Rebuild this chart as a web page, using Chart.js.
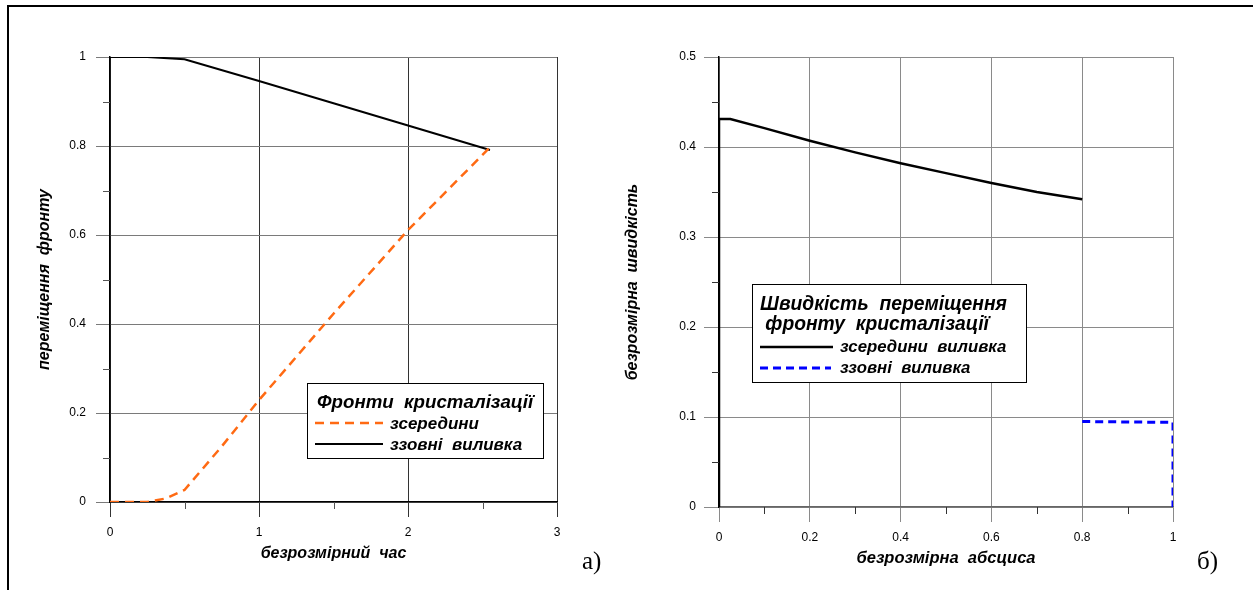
<!DOCTYPE html>
<html lang="uk">
<head>
  <meta charset="UTF-8">
  <title>Фронти кристалізації</title>
  <script src="https://cdn.jsdelivr.net/npm/chart.js"></script>
  <style>
    body { margin: 0; background: #fff; width: 1253px; height: 590px; overflow: hidden; position: relative; font-family: "Liberation Sans", Arial, sans-serif; }
    .frame { position: absolute; left: 7px; top: 5px; width: 1260px; height: 600px; border-top: 2px solid #000; border-left: 2px solid #000; }
    .panel { position: absolute; top: 0; height: 590px; }
    .legend { position: absolute; background: #fff; border: 1px solid #000; font-weight: bold; font-style: italic; color: #000; white-space: pre; }
    .legend div { position: absolute; line-height: 1; }
    .legend svg { position: absolute; overflow: visible; }
    .tag { position: absolute; font-family: "Liberation Serif", "Times New Roman", serif; font-size: 25px; color: #000; }
  </style>
</head>
<body>
  <div class="frame"></div>
  <div class="panel" style="left:0;width:620px"><canvas id="chartA"></canvas></div>
  <div class="panel" style="left:620px;width:633px"><canvas id="chartB"></canvas></div>

  <div class="legend" style="left:307px;top:383px;width:235px;height:74px">
    <div style="left:9px;top:9px;font-size:18.7px">Фронти  кристалізації</div>
    <svg style="left:7px;top:39px" width="70" height="1"><line x1="0" y1="0" x2="68" y2="0" stroke="#ff6a13" stroke-width="2.5" stroke-dasharray="9,6"/></svg>
    <div style="left:82px;top:31px;font-size:17px">зсередини</div>
    <svg style="left:7px;top:60px" width="70" height="1"><line x1="0" y1="0" x2="68" y2="0" stroke="#000" stroke-width="2"/></svg>
    <div style="left:82px;top:52px;font-size:17px">ззовні  виливка</div>
  </div>

  <div class="legend" style="left:752px;top:284px;width:273px;height:97px">
    <div style="left:7px;top:9px;font-size:19.3px">Швидкість  переміщення</div>
    <div style="left:7px;top:29px;font-size:19.3px"> фронту  кристалізації</div>
    <svg style="left:7px;top:62px" width="75" height="1"><line x1="0" y1="0" x2="73" y2="0" stroke="#000" stroke-width="2.5"/></svg>
    <div style="left:87px;top:54px;font-size:16.8px">зсередини  виливка</div>
    <svg style="left:7px;top:83px" width="75" height="1"><line x1="0" y1="0" x2="71" y2="0" stroke="#0000ff" stroke-width="3" stroke-dasharray="8,5"/></svg>
    <div style="left:87px;top:75px;font-size:16.8px">ззовні  виливка</div>
  </div>

  <div class="tag" style="left:582px;top:547px">а)</div>
  <div class="tag" style="left:1197px;top:547px">б)</div>

  <script>
    // --- панель а): переміщення фронту від безрозмірного часу
    const innerTime = [0, 0.25, 0.375, 0.5, 0.75, 1, 1.5, 2, 2.55];
    const innerFront = [0, 0, 0.008, 0.027, 0.125, 0.229, 0.423, 0.611, 0.797];
    const outerTime = [0, 0.25, 0.5, 1, 1.5, 2, 2.55];
    const outerFront = [1, 1, 0.995, 0.946, 0.896, 0.846, 0.791];
    const xTicksA = [0, 1, 2, 3];
    const xMinorA = [0.5, 1.5, 2.5];
    const yTicksA = [0, 0.2, 0.4, 0.6, 0.8, 1];
    const yMinorA = [0.1, 0.3, 0.5, 0.7, 0.9];

    // --- панель б): швидкість від безрозмірної абсциси
    const innerAbsc = [0, 0, 0.025, 0.1, 0.2, 0.3, 0.4, 0.5, 0.6, 0.7, 0.8];
    const innerSpeed = [0, 0.431, 0.431, 0.421, 0.407, 0.394, 0.382, 0.371, 0.36, 0.35, 0.342];
    const outerAbsc = [0.8, 1, 1];
    const outerSpeed = [0.095, 0.094, 0];
    const xTicksB = [0, 0.2, 0.4, 0.6, 0.8, 1];
    const xMinorB = [0.1, 0.3, 0.5, 0.7, 0.9];
    const yTicksB = [0, 0.1, 0.2, 0.3, 0.4, 0.5];
    const yMinorB = [0.05, 0.15, 0.25, 0.35, 0.45];

    Chart.defaults.font.family = '"Liberation Sans", Arial, sans-serif';
    Chart.defaults.color = '#000';

    const pts = (xs, ys) => xs.map((v, i) => ({x: v, y: ys[i]}));
    const setTicks = arr => s => { s.ticks = arr.map(v => ({value: v})); };
    const plainLabel = v => String(Math.round(v * 100) / 100);

    // short minor ticks, positioned through the chart's own scales
    const minorTicks = {
      id: 'minorTicks',
      afterDraw(chart, args, o) {
        const {ctx, scales: {x, y}} = chart;
        ctx.save();
        ctx.strokeStyle = o.color;
        ctx.lineWidth = 1;
        o.x.forEach(v => {
          const px = Math.round(x.getPixelForValue(v)) + 0.5;
          ctx.beginPath(); ctx.moveTo(px, x.top); ctx.lineTo(px, x.top + o.len); ctx.stroke();
        });
        o.y.forEach(v => {
          const py = Math.round(y.getPixelForValue(v)) + 0.5;
          ctx.beginPath(); ctx.moveTo(y.right - o.len, py); ctx.lineTo(y.right, py); ctx.stroke();
        });
        ctx.restore();
      }
    };

    const tickFont = {size: 12};
    const titleFont = {size: 16, weight: 'bold', style: 'italic'};

    new Chart(document.getElementById('chartA'), {
      type: 'line',
      plugins: [minorTicks],
      data: {
        datasets: [
          {label: 'зсередини', data: pts(innerTime, innerFront), borderColor: '#ff6a13', borderWidth: 2.5, borderDash: [9, 6], pointRadius: 0, tension: 0},
          {label: 'ззовні виливка', data: pts(outerTime, outerFront), borderColor: '#000', borderWidth: 2, pointRadius: 0, tension: 0}
        ]
      },
      options: {
        responsive: true, maintainAspectRatio: false, animation: false,
        layout: {padding: {left: 0, top: 57, right: 63, bottom: 0}},
        plugins: {
          legend: {display: false}, tooltip: {enabled: false},
          minorTicks: {x: xMinorA, y: yMinorA, len: 7, color: '#555'}
        },
        scales: {
          x: {
            type: 'linear', min: 0, max: 3,
            afterBuildTicks: setTicks(xTicksA),
            afterFit: s => { s.height = 88; },
            grid: {color: '#333', lineWidth: 1, tickLength: 15},
            border: {color: '#000', width: 1.5},
            ticks: {font: tickFont, padding: 8, maxRotation: 0, autoSkip: false, callback: plainLabel},
            title: {display: true, text: 'безрозмірний  час', font: titleFont, padding: {top: 0, bottom: 27}}
          },
          y: {
            type: 'linear', min: 0, max: 1,
            afterBuildTicks: setTicks(yTicksA),
            afterFit: s => { s.width = 110; },
            grid: {color: '#7a7a7a', lineWidth: 1, tickLength: 14},
            border: {color: '#000', width: 1.5},
            ticks: {font: tickFont, padding: 10, callback: plainLabel},
            title: {display: true, text: 'переміщення  фронту', font: titleFont, padding: {top: 35, bottom: 0}}
          }
        }
      }
    });

    new Chart(document.getElementById('chartB'), {
      type: 'line',
      plugins: [minorTicks],
      data: {
        datasets: [
          {label: 'зсередини виливка', data: pts(innerAbsc, innerSpeed), borderColor: '#000', borderWidth: 2.5, pointRadius: 0, tension: 0},
          {label: 'ззовні виливка', data: pts(outerAbsc, outerSpeed), borderColor: '#0000ff', borderWidth: 3, borderDash: [8, 5], pointRadius: 0, tension: 0}
        ]
      },
      options: {
        responsive: true, maintainAspectRatio: false, animation: false,
        layout: {padding: {left: 0, top: 57, right: 80, bottom: 0}},
        plugins: {
          legend: {display: false}, tooltip: {enabled: false},
          minorTicks: {x: xMinorB, y: yMinorB, len: 7, color: '#333'}
        },
        scales: {
          x: {
            type: 'linear', min: 0, max: 1,
            afterBuildTicks: setTicks(xTicksB),
            afterFit: s => { s.height = 83; },
            grid: {color: '#8a8a8a', lineWidth: 1, tickLength: 15},
            border: {color: '#666', width: 1.5},
            ticks: {font: tickFont, padding: 8, maxRotation: 0, autoSkip: false, callback: plainLabel},
            title: {display: true, text: 'безрозмірна  абсциса', font: {size: 16.5, weight: 'bold', style: 'italic'}, padding: {top: 0, bottom: 22}}
          },
          y: {
            type: 'linear', min: 0, max: 0.5,
            afterBuildTicks: setTicks(yTicksB),
            afterFit: s => { s.width = 99; },
            grid: {color: '#8a8a8a', lineWidth: 1, tickLength: 15},
            border: {color: '#000', width: 1.5},
            ticks: {font: tickFont, padding: 8, callback: plainLabel},
            title: {display: true, text: 'безрозмірна  швидкість', font: titleFont, padding: {top: 3, bottom: 0}}
          }
        }
      }
    });
  </script>
</body>
</html>
